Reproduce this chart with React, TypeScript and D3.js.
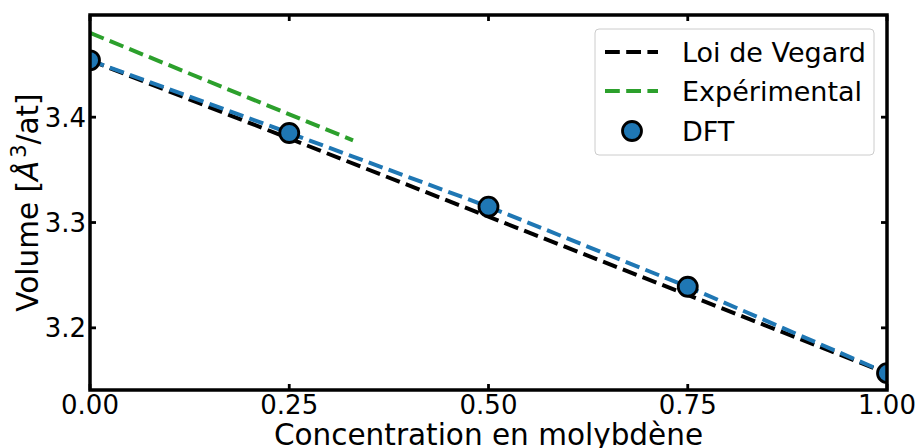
import React from "react";
import * as d3 from "d3";

const concentrations = [0, 0.25, 0.5, 0.75, 1.0];
const dftVolumes = [3.454, 3.385, 3.315, 3.239, 3.157];
const vegardX = [0, 1];
const vegardY = [3.454, 3.157];
const expX = [0, 0.33];
const expY = [3.48, 3.378];
const xTicks = [0, 0.25, 0.5, 0.75, 1.0];
const yTicks = [3.2, 3.3, 3.4];
const legendLabels = ["Loi de Vegard", "Expérimental", "DFT"];

const W = 919;
const H = 448;
const L = 90, R = 887, T = 15, B = 390;
const FONT = "DejaVu Sans";
const FS_TICK = 26;
const FS_LEG = 27;
const FS_LAB = 29.5;

export default function App() {
  const x = d3.scaleLinear().domain([0, 1]).range([L, R]);
  const y = d3.scaleLinear().domain([3.141, 3.497]).range([B, T]);
  const line = d3
    .line<[number, number]>()
    .x((d) => x(d[0]))
    .y((d) => y(d[1]));
  const vegard = line(vegardX.map((v, i) => [v, vegardY[i]]) as [number, number][]) || "";
  const exp = line(expX.map((v, i) => [v, expY[i]]) as [number, number][]) || "";
  const dft = line(concentrations.map((v, i) => [v, dftVolumes[i]]) as [number, number][]) || "";
  const dash = "14.8,6.4";
  const lw = 4;
  const tickLen = 6;
  const legX = 605;
  const legTextX = 682;
  const legRows = [52, 91, 131];

  return (
    <div style={{ position: "fixed", left: 0, top: 0 }}>
      <svg width={W} height={H} style={{ display: "block", background: "#fff" }} fontFamily={FONT}>
        <defs>
          <clipPath id="plotclip">
            <rect x={L} y={T} width={R - L} height={B - T} />
          </clipPath>
        </defs>
        <g clipPath="url(#plotclip)">
          <path d={vegard} fill="none" stroke="#000" strokeWidth={lw} strokeDasharray={dash} />
          <path d={exp} fill="none" stroke="#2ca02c" strokeWidth={lw} strokeDasharray={dash} />
          <path d={dft} fill="none" stroke="#1f77b4" strokeWidth={lw} strokeDasharray={dash} />
          {concentrations.map((c, i) => (
            <circle key={i} cx={x(c)} cy={y(dftVolumes[i])} r={9.5} fill="#1f77b4" stroke="#000" strokeWidth={2.8} />
          ))}
        </g>
        {xTicks.map((t, i) => (
          <g key={"x" + i}>
            <line x1={x(t)} x2={x(t)} y1={B} y2={B - tickLen} stroke="#000" strokeWidth={2.8} />
            <line x1={x(t)} x2={x(t)} y1={T} y2={T + tickLen} stroke="#000" strokeWidth={2.8} />
            <text x={x(t)} y={414} fontSize={FS_TICK} textAnchor="middle" fill="#000">
              {d3.format(".2f")(t)}
            </text>
          </g>
        ))}
        {yTicks.map((t, i) => (
          <g key={"y" + i}>
            <line x1={L} x2={L + tickLen} y1={y(t)} y2={y(t)} stroke="#000" strokeWidth={2.8} />
            <line x1={R} x2={R - tickLen} y1={y(t)} y2={y(t)} stroke="#000" strokeWidth={2.8} />
            <text x={86} y={y(t)} dy="0.36em" fontSize={FS_TICK} textAnchor="end" fill="#000">
              {d3.format(".1f")(t)}
            </text>
          </g>
        ))}
        <rect x={L} y={T} width={R - L} height={B - T} fill="none" stroke="#000" strokeWidth={3.5} />
        <text x={(L + R) / 2} y={445} fontSize={FS_LAB} textAnchor="middle" fill="#000">
          Concentration en molybdène
        </text>
        <text transform={`translate(38,${(T + B) / 2}) rotate(-90)`} fontSize={FS_LAB} textAnchor="middle" fill="#000">
          Volume [<tspan fontStyle="italic">Å</tspan>
          <tspan dx={3} dy={-12} fontSize={21}>3</tspan>
          <tspan dy={12}>/at]</tspan>
        </text>
        <rect x={595} y={29} width={279} height={126} rx={4} fill="#fff" fillOpacity={0.8} stroke="#ccc" strokeWidth={1} />
        <line x1={legX} x2={legX + 53} y1={legRows[0]} y2={legRows[0]} stroke="#000" strokeWidth={lw} strokeDasharray={dash} />
        <line x1={legX} x2={legX + 53} y1={legRows[1]} y2={legRows[1]} stroke="#2ca02c" strokeWidth={lw} strokeDasharray={dash} />
        <circle cx={632} cy={legRows[2]} r={9.5} fill="#1f77b4" stroke="#000" strokeWidth={2.8} />
        {legendLabels.map((l, i) => (
          <text key={l} x={legTextX} y={legRows[i]} dy="0.36em" fontSize={FS_LEG} fill="#000">
            {l}
          </text>
        ))}
      </svg>
    </div>
  );
}
